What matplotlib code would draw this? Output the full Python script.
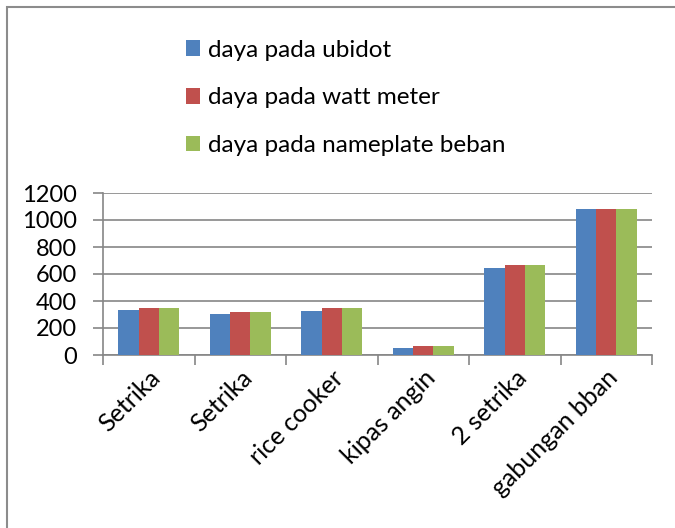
import matplotlib.pyplot as plt
import matplotlib.patches as mpatches
import numpy as np

plt.rcParams['font.family'] = ['Lato', 'DejaVu Sans']

categories = ['Setrika', 'Setrika', 'rice cooker', 'kipas angin', '2 setrika', 'gabungan bban']
ubidot = [330, 302, 328, 55, 648, 1078]
watt_meter = [350, 318, 350, 63, 668, 1084]
nameplate = [350, 318, 350, 63, 668, 1084]
series_names = ['daya pada ubidot', 'daya pada watt meter', 'daya pada nameplate beban']
colors = ['#4F81BD', '#C0504D', '#9BBB59']
yticks = [0, 200, 400, 600, 800, 1000, 1200]

W, H = 675, 528
fig = plt.figure(figsize=(W / 100, H / 100), dpi=100)

# axes box in pixel coords: left 103, right 652, top 193, bottom 355
ax = fig.add_axes([103 / W, 1 - 355 / H, (652 - 103) / W, (355 - 193) / H])

x = np.arange(len(categories))
bw = 0.221
handles = []
for i, (vals, name, c) in enumerate(zip([ubidot, watt_meter, nameplate], series_names, colors)):
    b = ax.bar(x + (i - 1) * bw, vals, bw, color=c, label=name, zorder=3)
    handles.append(b)

grid_c = '#868686'
ax.set_xlim(-0.5, len(categories) - 0.5)
ax.set_ylim(0, 1200)
ax.set_yticks(yticks)
ax.yaxis.grid(True, color=grid_c, linewidth=1.2, zorder=0)
ax.set_axisbelow(True)

for s in ['top', 'right']:
    ax.spines[s].set_visible(False)
for s in ['left', 'bottom']:
    ax.spines[s].set_color(grid_c)
    ax.spines[s].set_linewidth(1.2)

# category boundary ticks on x axis, labels at centres
ax.set_xticks(np.arange(len(categories) + 1) - 0.5)
ax.set_xticklabels([])
ax.set_xticks(x, minor=True)
ax.set_xticklabels(categories, minor=True, rotation=45, ha='right',
                   rotation_mode='anchor', fontsize=18)
ax.tick_params(axis='x', which='minor', length=0, pad=8)
ax.tick_params(axis='x', which='major', length=7, width=1.2, color=grid_c, direction='out')
ax.tick_params(axis='y', length=7, width=1.2, color=grid_c, labelsize=17, pad=12)

fig.legend(handles, series_names, loc='upper left', bbox_to_anchor=(176 / W, 1 - 30 / H),
           frameon=False, fontsize=17.5, handlelength=0.6, handleheight=0.6,
           handletextpad=0.3, labelspacing=1.1, borderaxespad=0)

# outer chart border
fig.patches.append(mpatches.Rectangle((6.5 / W, -0.1), 1.2, 1 - 6.5 / H + 0.1,
                                      transform=fig.transFigure, fill=False,
                                      edgecolor='#8c8c8c', linewidth=1.5))

fig.savefig('out.png', dpi=100)
